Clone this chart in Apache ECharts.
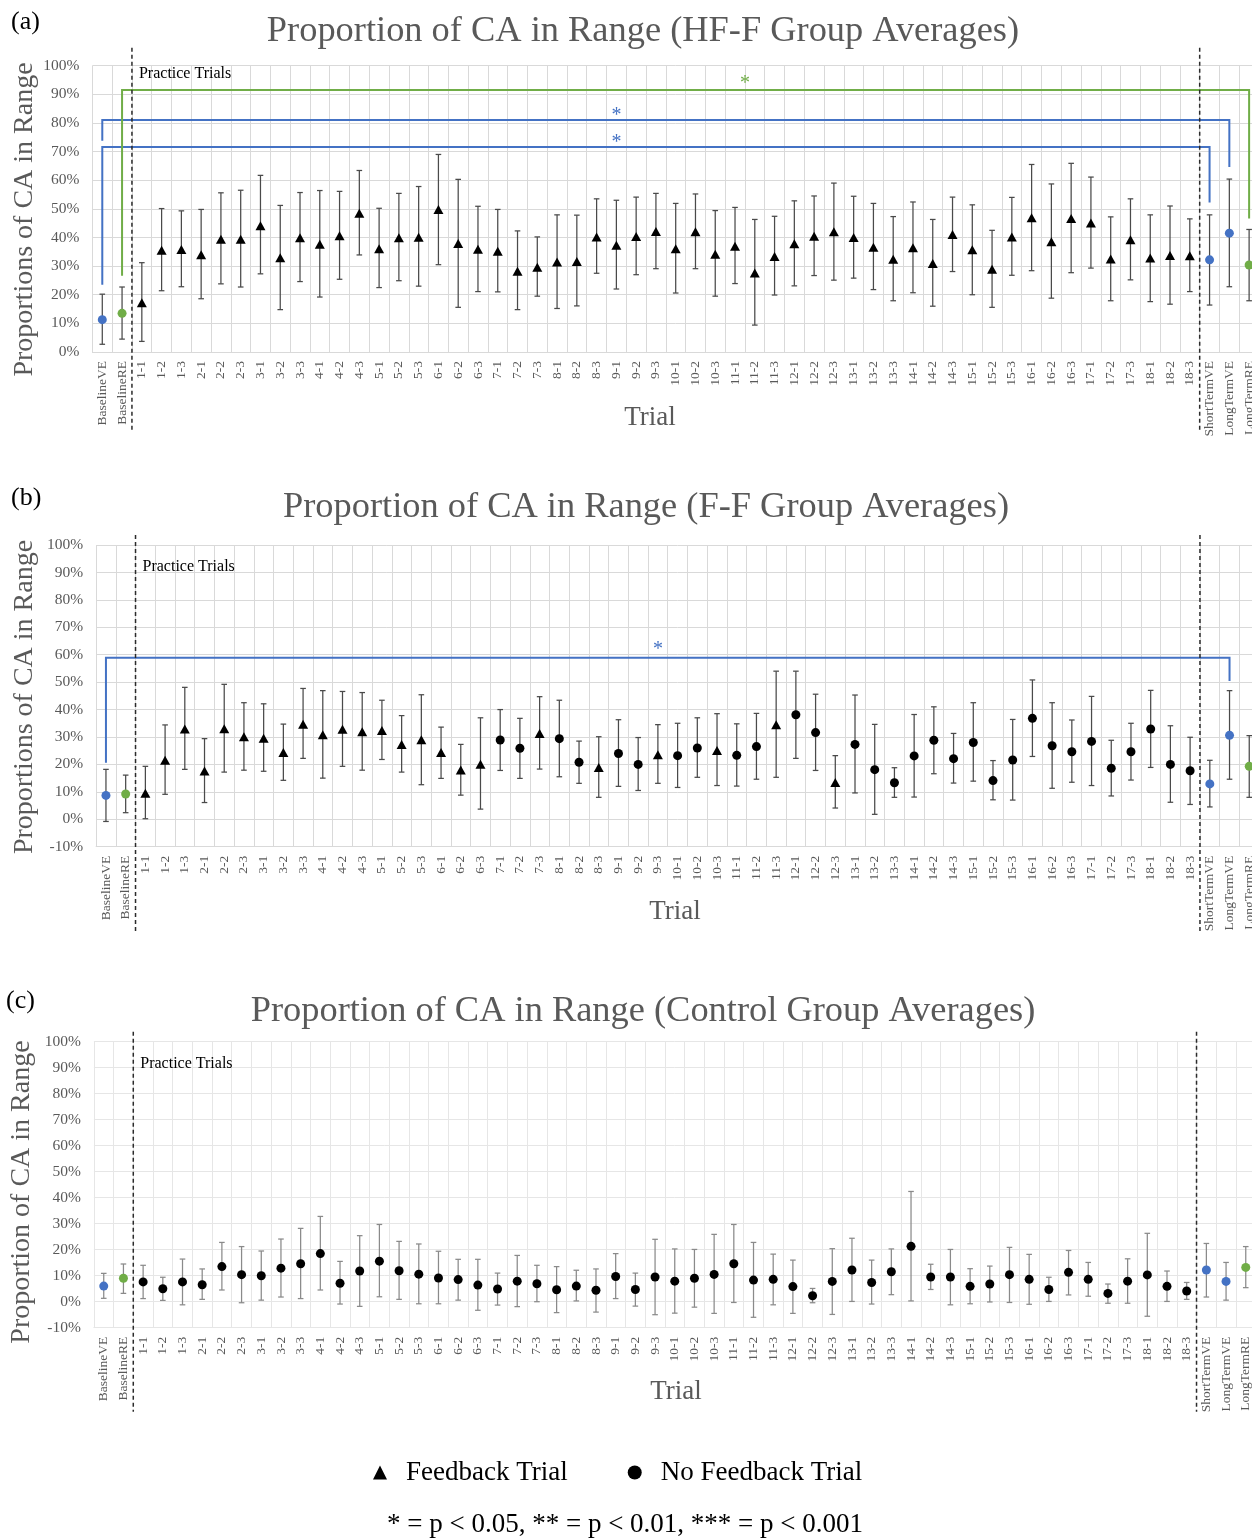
<!DOCTYPE html>
<html><head><meta charset="utf-8">
<script src="https://cdn.jsdelivr.net/npm/echarts@6/dist/echarts.min.js"></script>
<style>html,body{margin:0;padding:0;background:#fff;overflow:hidden;width:1252px;height:1540px}#c{width:1262px;height:1540px}</style>
</head><body><div id="c"></div><script>
// ---------------- DATA ----------------
const categories = ['BaselineVE','BaselineRE',
 '1-1','1-2','1-3','2-1','2-2','2-3','3-1','3-2','3-3','4-1','4-2','4-3','5-1','5-2','5-3',
 '6-1','6-2','6-3','7-1','7-2','7-3','8-1','8-2','8-3','9-1','9-2','9-3','10-1','10-2','10-3',
 '11-1','11-2','11-3','12-1','12-2','12-3','13-1','13-2','13-3','14-1','14-2','14-3','15-1','15-2','15-3',
 '16-1','16-2','16-3','17-1','17-2','17-3','18-1','18-2','18-3','ShortTermVE','LongTermVE','LongTermRE'];

// Marker type per category: VE = blue circle, RE = green circle, F = feedback (triangle), N = no feedback (circle)
const typesA = ['VE','RE',
 'F','F','F','F','F','F','F','F','F','F','F','F','F','F','F',
 'F','F','F','F','F','F','F','F','F','F','F','F','F','F','F',
 'F','F','F','F','F','F','F','F','F','F','F','F','F','F','F',
 'F','F','F','F','F','F','F','F','F','VE','VE','RE'];
const meansA = [11.3,13.5, 17.2,35.5,35.8,34.0,39.4,39.4,44.1,32.9,39.9,37.6,40.6,48.5,36.1,39.9,40.1,
 49.8,37.9,35.9,35.2,28.2,29.6,31.4,31.6,40.2,37.3,40.3,42.1,36.1,42.0,34.1,
 36.9,27.6,33.4,37.8,40.4,42.0,40.0,36.6,32.4,36.4,30.9,41.0,35.7,28.9,40.2,
 46.9,38.5,46.6,45.1,32.5,39.2,32.8,33.7,33.6, 32.2,41.5,30.4];
const highA = [20.2,22.7, 31.2,50.1,49.3,49.8,55.6,56.5,61.7,51.2,55.7,56.4,56.1,63.4,50.2,55.4,57.8,
 69.0,60.3,50.9,49.8,42.3,40.2,47.9,47.8,53.5,53.0,54.1,55.4,51.9,55.2,49.4,
 50.5,46.3,47.4,52.8,54.5,59.0,54.4,51.9,47.3,52.4,46.3,54.1,51.4,42.5,54.0,
 65.5,58.7,65.9,61.1,47.2,53.5,47.9,51.0,46.5, 47.9,60.4,42.8];
const lowA = [2.7,4.5, 3.7,21.4,22.8,18.6,23.8,22.7,27.3,14.8,24.6,19.2,25.4,33.9,22.5,24.9,23.0,
 30.5,15.6,21.1,21.0,14.8,19.5,15.2,16.1,27.5,22.0,27.0,29.1,20.6,29.1,19.5,
 23.9,9.4,19.9,23.1,26.7,25.1,25.8,21.8,17.9,20.7,16.0,28.1,20.0,15.6,26.8,
 28.4,18.8,27.7,29.3,17.9,25.2,17.6,16.7,21.1, 16.4,22.8,17.9];
// brackets: [fromCat, toCat, startY, topY, endY, starCat, starY]
const bracketsA = [[0,56,23.5,71.6,52.2,26,74.6],[0,57,73.8,81.0,64.6,26,83.9],[1,58,26.6,91.5,46.6,32.5,95.2]];
const bracketColorsA = ['#4472C4','#4472C4','#70AD47'];

const typesB = ['VE','RE',
 'F','F','F','F','F','F','F','F','F','F','F','F','F','F','F',
 'F','F','F','N','N','F','N','N','F','N','N','F','N','N','F',
 'N','N','F','N','N','F','N','N','N','N','N','N','N','N','N',
 'N','N','N','N','N','N','N','N','N','VE','VE','RE'];
const meansB = [8.7,9.2, 9.5,21.5,32.9,17.6,33.0,30.1,29.5,24.3,34.6,30.8,32.8,31.9,32.4,27.3,29.0,
 24.3,18.0,20.1,28.9,25.9,31.3,29.4,20.8,18.9,24.0,20.0,23.5,23.2,26.0,25.1,
 23.3,26.5,34.5,38.1,31.6,13.4,27.3,18.1,13.3,23.1,28.8,22.1,28.0,14.1,21.6,
 36.8,26.8,24.6,28.4,18.6,24.6,32.9,20.0,17.7, 12.9,30.6,19.3];
const highB = [18.2,16.1, 19.3,34.4,48.1,29.4,49.2,42.5,42.1,34.7,47.7,46.9,46.6,46.2,43.4,37.8,45.4,
 33.6,27.3,37.0,40.0,36.8,44.7,43.4,28.5,30.1,36.3,29.8,34.5,35.0,37.0,38.5,
 34.8,38.6,54.0,54.0,45.6,23.2,45.3,34.6,18.8,38.2,41.0,31.3,42.5,21.4,36.4,
 50.8,42.5,36.2,44.8,28.8,35.0,47.0,34.1,29.9, 21.5,46.9,30.5];
const lowB = [-0.8,2.4, 0.2,9.1,18.2,6.1,17.2,17.9,17.5,14.2,22.2,15.0,19.3,17.9,21.8,17.2,12.6,
 14.9,8.8,3.7,17.8,14.9,18.3,15.5,13.1,8.0,12.0,10.5,13.1,11.6,15.3,12.3,
 12.1,14.6,15.3,22.2,17.8,4.1,9.6,1.8,8.0,8.1,16.6,13.2,13.9,7.1,7.0,
 22.9,11.3,13.5,12.3,8.5,14.3,18.9,6.2,5.4, 4.5,14.6,8.0];
const bracketsB = [[0,57,20.6,58.9,50.4,28,63.3]];
const bracketColorsB = ['#4472C4'];

const typesC = ['VE','RE',
 'N','N','N','N','N','N','N','N','N','N','N','N','N','N','N',
 'N','N','N','N','N','N','N','N','N','N','N','N','N','N','N',
 'N','N','N','N','N','N','N','N','N','N','N','N','N','N','N',
 'N','N','N','N','N','N','N','N','N','VE','VE','RE'];
const meansC = [6.0,9.0, 7.6,5.0,7.6,6.5,13.5,10.4,10.0,12.9,14.6,18.5,7.1,11.8,15.6,11.9,10.6,
 9.1,8.5,6.4,4.9,7.9,6.9,4.6,6.0,4.4,9.7,4.7,9.5,7.9,9.0,10.5,
 14.6,8.3,8.6,5.8,2.3,7.8,12.2,7.4,11.5,21.3,9.5,9.5,5.9,6.8,10.4,
 8.6,4.7,11.3,8.6,3.2,7.9,10.3,5.9,4.1, 12.2,7.8,13.2];
const highC = [10.9,14.5, 14.0,9.4,16.4,12.6,22.8,21.2,19.5,24.1,28.2,32.8,15.5,25.4,29.7,23.2,22.2,
 19.4,16.3,16.3,11.0,17.8,14.0,13.5,12.1,12.6,18.5,11.0,24.0,20.3,20.1,25.9,
 29.7,22.8,18.3,16.0,5.1,20.4,24.4,16.0,20.3,42.4,14.4,20.1,12.7,13.7,20.9,
 18.2,9.4,19.7,15.1,6.8,16.5,26.3,11.8,7.4, 22.4,15.1,21.2];
const lowC = [1.3,3.2, 1.2,0.5,-1.2,0.9,4.5,-0.4,0.6,1.8,1.2,4.5,-0.9,-1.8,1.9,0.9,-0.8,
 -0.8,0.6,-3.3,-1.3,-1.9,0.0,-4.2,0.3,-4.0,1.2,-1.7,-5.0,-4.4,-2.1,-4.5,
 -0.3,-6.0,-1.2,-4.5,-0.4,-4.9,0.1,-0.9,2.7,0.3,4.7,-1.2,-0.8,-0.1,-0.3,
 -1.0,0.1,2.6,2.1,-0.6,-0.6,-5.6,0.1,0.9, 1.8,0.6,5.4];
const bracketsC = [];
const bracketColorsC = [];

// section separators (dashed line drawn after these categories)
const separators = [1, 55];
const yTicksLabelFmt = '{value}%';

// ---------------- LAYOUT / STYLE ----------------
const FONT = '"Liberation Serif","Times New Roman",serif';
const BLUE = '#4472C4', GREEN = '#70AD47';
const panels = [
 {means: meansA, high: highA, low: lowA, types: typesA, brackets: bracketsA, bColors: bracketColorsA,
  grid: {left: 92.4, top: 65.7, width: 1166.6, height: 286.3}, ymin: 0,
  gridColor: '#d9d9d9', errColor: '#4a4a4a', sepExt: [18, 80], ptOffset: 8.3},
 {means: meansB, high: highB, low: lowB, types: typesB, brackets: bracketsB, bColors: bracketColorsB,
  grid: {left: 96.1, top: 545, width: 1163, height: 301.7}, ymin: -10,
  gridColor: '#d9d9d9', errColor: '#4a4a4a', sepExt: [10, 86], ptOffset: 22},
 {means: meansC, high: highC, low: lowC, types: typesC, brackets: bracketsC, bColors: bracketColorsC,
  grid: {left: 93.9, top: 1041.7, width: 1161.7, height: 286}, ymin: -10,
  gridColor: '#e6e6e6', errColor: '#8a8a8a', sepExt: [10, 84], ptOffset: 22.3}
];

function catX(api, idx) {
  const lo = Math.floor(idx), hi = Math.ceil(idx);
  const a = api.coord([lo, 0])[0];
  if (hi === lo) return a;
  const b = api.coord([hi, 0])[0];
  return a + (b - a) * (idx - lo);
}
function txtStyle(text, font, fill, align, valign) {
  return {text: text, font: font, fill: fill, align: align, textAlign: align, verticalAlign: valign, textVerticalAlign: valign};
}
function errorRender(color) {
  return function (params, api) {
    const i = api.value(0);
    const top = api.coord([i, api.value(2)]);
    const bot = api.coord([i, api.value(1)]);
    const w = 2.8;
    const st = {stroke: color, lineWidth: 1.25};
    return {type: 'group', children: [
      {type: 'line', shape: {x1: top[0], y1: top[1], x2: bot[0], y2: bot[1]}, style: st},
      {type: 'line', shape: {x1: top[0] - w, y1: top[1], x2: top[0] + w, y2: top[1]}, style: st},
      {type: 'line', shape: {x1: bot[0] - w, y1: bot[1], x2: bot[0] + w, y2: bot[1]}, style: st}
    ]};
  };
}
function bracketRender(colors) {
  return function (params, api) {
    const from = api.value(0), to = api.value(1);
    const xa = catX(api, from), xb = catX(api, to);
    const ya = api.coord([from, api.value(2)])[1];
    const yt = api.coord([from, api.value(3)])[1];
    const yb = api.coord([from, api.value(4)])[1];
    const ys = api.coord([from, api.value(6)])[1];
    const c = colors[params.dataIndex];
    return {type: 'group', children: [
      {type: 'polyline', shape: {points: [[xa, ya], [xa, yt], [xb, yt], [xb, yb]]}, style: {stroke: c, lineWidth: 2, fill: null}},
      {type: 'text', x: catX(api, api.value(5)), y: ys + 4, style: txtStyle('*', '20px ' + FONT, c, 'center', 'middle')}
    ]};
  };
}
function sepRender(ext, ptOffset) {
  return function (params, api) {
    const x = catX(api, api.value(0) + 0.5);
    const cs = params.coordSys;
    const children = [{type: 'line', shape: {x1: x, y1: cs.y - ext[0], x2: x, y2: cs.y + cs.height + ext[1]},
      style: {stroke: '#2b2b2b', lineWidth: 1.5, lineDash: [4, 3]}}];
    if (params.dataIndex === 0) {
      children.push({type: 'text', x: x + 7, y: cs.y + ptOffset, style: txtStyle('Practice Trials', '16px ' + FONT, '#000', 'left', 'middle')});
    }
    return {type: 'group', children: children};
  };
}

const grids = [], xAxes = [], yAxes = [], series = [];
panels.forEach(function (p, k) {
  grids.push(p.grid);
  xAxes.push({gridIndex: k, type: 'category', data: categories, boundaryGap: true,
    axisLine: {show: true, onZero: false, lineStyle: {color: p.gridColor}}, axisTick: {show: false},
    axisLabel: {interval: 0, rotate: 90, fontFamily: FONT, fontSize: 13.5, color: '#595959', margin: 9},
    splitLine: {show: true, interval: 0, lineStyle: {color: p.gridColor, width: 1}}});
  yAxes.push({gridIndex: k, type: 'value', min: p.ymin, max: 100, interval: 10,
    axisLine: {show: false}, axisTick: {show: false},
    axisLabel: {formatter: yTicksLabelFmt, fontFamily: FONT, fontSize: 15.5, color: '#595959', margin: 13},
    splitLine: {lineStyle: {color: p.gridColor, width: 1}}});
  series.push({type: 'custom', xAxisIndex: k, yAxisIndex: k, renderItem: errorRender(p.errColor),
    encode: {x: 0, y: [1, 2]}, z: 2, silent: true,
    data: categories.map(function (c, i) { return [i, p.low[i], p.high[i]]; })});
  const pick = function (t) {
    const out = [];
    p.types.forEach(function (tt, i) { if (tt === t) out.push([i, p.means[i]]); });
    return out;
  };
  series.push({type: 'scatter', name: 'Feedback Trial', xAxisIndex: k, yAxisIndex: k, symbol: 'triangle',
    symbolSize: [10, 9], itemStyle: {color: '#000', opacity: 1}, z: 5, data: pick('F')});
  series.push({type: 'scatter', name: 'No Feedback Trial', xAxisIndex: k, yAxisIndex: k, symbol: 'circle',
    symbolSize: 9, itemStyle: {color: '#000', opacity: 1}, z: 5, data: pick('N')});
  series.push({type: 'scatter', name: 'VE', xAxisIndex: k, yAxisIndex: k, symbol: 'circle',
    symbolSize: 9, itemStyle: {color: BLUE, opacity: 1}, z: 5, data: pick('VE')});
  series.push({type: 'scatter', name: 'RE', xAxisIndex: k, yAxisIndex: k, symbol: 'circle',
    symbolSize: 9, itemStyle: {color: GREEN, opacity: 1}, z: 5, data: pick('RE')});
  if (p.brackets.length) {
    series.push({type: 'custom', xAxisIndex: k, yAxisIndex: k, renderItem: bracketRender(p.bColors),
      encode: {x: 0, y: 3}, z: 4, silent: true, data: p.brackets});
  }
  series.push({type: 'custom', xAxisIndex: k, yAxisIndex: k, renderItem: sepRender(p.sepExt, p.ptOffset),
    encode: {x: 0, y: 1}, z: 6, silent: true, clip: false, data: separators.map(function (s) { return [s, 0]; })});
});

function gtext(text, x, y, size, fill, align, rot) {
  return {type: 'text', x: x, y: y, rotation: rot || 0, silent: true,
    style: txtStyle(text, size + 'px ' + FONT, fill, align || 'center', 'middle')};
}
const graphics = [
  gtext('(a)', 11, 22, 26, '#000', 'left'),
  gtext('(b)', 11, 498, 26, '#000', 'left'),
  gtext('(c)', 6, 1001, 26, '#000', 'left'),
  gtext('Proportion of CA in Range (HF-F Group Averages)', 643, 31, 36.4, '#595959'),
  gtext('Proportion of CA in Range (F-F Group Averages)', 646, 507, 36.4, '#595959'),
  gtext('Proportion of CA in Range (Control Group Averages)', 643, 1011, 36.4, '#595959'),
  gtext('Proportions of CA in Range', 25, 219.5, 28, '#595959', 'center', Math.PI / 2),
  gtext('Proportions of CA in Range', 25, 697, 28, '#595959', 'center', Math.PI / 2),
  gtext('Proportion of CA in Range', 22, 1192, 28, '#595959', 'center', Math.PI / 2),
  gtext('Trial', 650, 418, 27, '#595959'),
  gtext('Trial', 675, 912, 27, '#595959'),
  gtext('Trial', 676, 1392, 27, '#595959'),
  gtext('* = p < 0.05, ** = p < 0.01, *** = p < 0.001', 625, 1525, 27, '#000')
];

const chart = echarts.init(document.getElementById('c'), null, {renderer: 'canvas'});
chart.setOption({
  backgroundColor: '#fff',
  animation: false,
  grid: grids, xAxis: xAxes, yAxis: yAxes, series: series,
  legend: {data: [{name: 'Feedback Trial', icon: 'triangle'}, {name: 'No Feedback Trial', icon: 'circle'}],
    left: 368, top: 1454, itemWidth: 14, itemHeight: 14, itemGap: 60, selectedMode: false,
    textStyle: {fontFamily: FONT, fontSize: 27, color: '#000', padding: [0, 0, 0, 14]}},
  graphic: graphics
});
</script></body></html>
